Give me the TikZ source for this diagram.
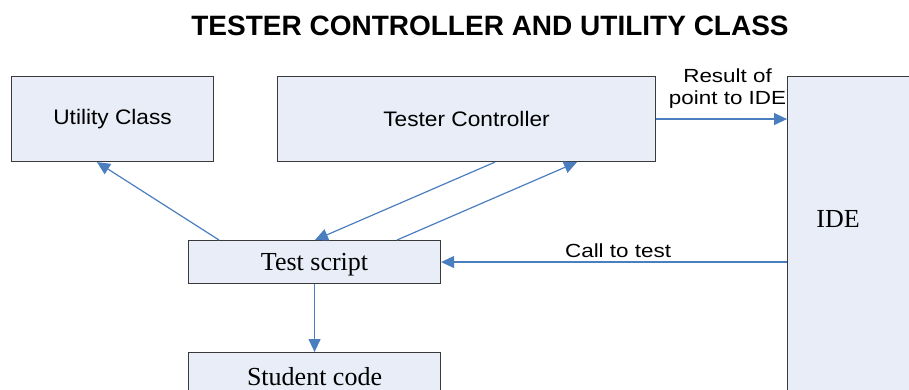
\documentclass[tikz,border=0pt]{standalone}
\usepackage{fontspec}
\usetikzlibrary{arrows.meta,calc}
\newfontfamily\diagsans[FakeStretch=1.08]{Liberation Sans}
\newfontfamily\edgesans[FakeStretch=1.18]{Liberation Sans}
\newfontfamily\titlesans{Liberation Sans}
\newfontfamily\diagserif{Liberation Serif}
\definecolor{boxfill}{HTML}{E8EDF7}
\definecolor{boxline}{HTML}{3A3A3A}
\definecolor{linkblue}{HTML}{4A7EBF}
\tikzset{
  box/.style={draw=boxline, line width=1.1pt, fill=boxfill, inner sep=0pt, anchor=north west},
  sanslabel/.style={font=\diagsans\fontsize{21}{24}\selectfont, text=black},
  seriflabel/.style={font=\diagserif\fontsize{26}{28}\selectfont, text=black},
  edgelabel/.style={font=\edgesans\fontsize{19}{22}\selectfont, text=black, align=center, inner sep=1pt},
  link/.style={draw=linkblue, line width=1.2pt, -{Triangle[length=13pt,width=12pt]}},
}
\begin{document}
\begin{tikzpicture}[x=1pt,y=-1pt]
\useasboundingbox (0,0) rectangle (909,390);
\clip (0,0) rectangle (909,390);

% title
\node[font=\titlesans\bfseries\fontsize{28}{30}\selectfont] (title) at (490,26) {TESTER CONTROLLER AND UTILITY CLASS};

% boxes
\node[box, sanslabel, minimum width=202pt, minimum height=85pt] (util) at (11,76) {Utility Class};
\node[box, sanslabel, minimum width=378pt, minimum height=85pt] (tc) at (277,76) {Tester Controller};
\node[box, minimum width=150pt, minimum height=340pt] (ide) at (787,76) {};
\node[seriflabel] (idetext) at (838,219) {IDE};
\node[box, seriflabel, text depth=0pt, minimum width=252pt, minimum height=43pt] (ts) at (188,240) {Test script};
\node[box, seriflabel, minimum width=252pt, minimum height=48pt] (sc) at (188,352) {Student code};

% connectors
\draw[link] ([xshift=31pt]ts.north west) -- ([xshift=86pt]util.south west);
\draw[link] ([xshift=218pt]tc.south west) -- ([xshift=127pt]ts.north west);
\draw[link] ([xshift=209pt]ts.north west) -- ([xshift=300pt]tc.south west);
\draw[link] (tc.east) -- node[edgelabel, above=9pt, xshift=6pt] {Result of\\point to IDE} (tc.east -| ide.west);
\draw[link] (ts.east -| ide.west) -- node[edgelabel, above=3pt, xshift=4pt] {Call to test} (ts.east);
\draw[link] (ts.south) -- (sc.north);
\end{tikzpicture}
\end{document}
